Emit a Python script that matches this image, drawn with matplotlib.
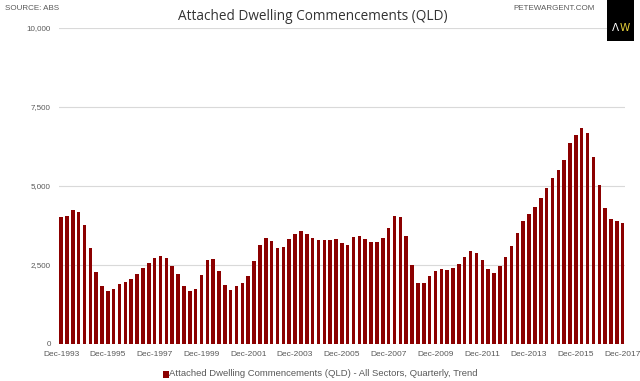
import matplotlib
matplotlib.use("Agg")
import matplotlib.pyplot as plt
from matplotlib.patches import Rectangle

values = [4013, 4055, 4237, 4192, 3758, 3033, 2289, 1830, 1682, 1756,
          1894, 1969, 2054, 2203, 2395, 2554, 2714, 2800, 2714, 2480,
          2203, 1842, 1682, 1746, 2171, 2660, 2692, 2309, 1862, 1714,
          1820, 1925, 2139, 2618, 3139, 3362, 3257, 3033, 3065, 3321,
          3491, 3576, 3470, 3353, 3299, 3278, 3278, 3321, 3193, 3118,
          3374, 3406, 3331, 3235, 3235, 3353, 3672, 4066, 4023, 3406,
          2490, 1925, 1946, 2158, 2304, 2389, 2326, 2399, 2538, 2760,
          2950, 2876, 2643, 2358, 2241, 2463, 2760, 3108, 3497, 3877,
          4108, 4340, 4636, 4921, 5247, 5500, 5817, 6355, 6599, 6820,
          6662, 5924, 5047, 4297, 3940, 3887, 3814]
tick_years = list(range(1993, 2018, 2))
tick_labels = [f"Dec-{y}" for y in tick_years]
y_ticks = [0, 2500, 5000, 7500, 10000]
series_name = "Attached Dwelling Commencements (QLD) - All Sectors, Quarterly, Trend"
title = "Attached Dwelling Commencements (QLD)"

bar_color = "#8B0000"
grey = "#595959"

fig = plt.figure(figsize=(6.4, 3.81), dpi=100)
ax = fig.add_axes([59/640, 1-344/381, (625-59)/640, (344-28)/381])

x = list(range(len(values)))
ax.bar(x, values, width=0.6, color=bar_color, zorder=3)

ax.set_ylim(0, 10000)
ax.set_xlim(-0.35, len(values) - 0.6)
ax.set_yticks(y_ticks)
ax.set_yticklabels([f"{v:,}" for v in y_ticks], fontsize=5.8, color=grey, family="Liberation Sans")
ax.set_xticks([(y - 1993) * 4 for y in tick_years])
ax.set_xticklabels(tick_labels, fontsize=6, color=grey, family="Liberation Sans")
ax.tick_params(length=0, pad=5)
ax.tick_params(axis="y", pad=6)
ax.grid(axis="y", color="#d9d9d9", linewidth=0.8, zorder=0)
for s in ax.spines.values():
    s.set_visible(False)

fig.text(313/640, 1-16/381, title, ha="center", va="center", fontsize=9.8,
         family="Open Sans", color="#333333")
fig.text(5/640, 1-9/381, "SOURCE: ABS", ha="left", va="center", fontsize=5.8,
         family="Liberation Sans", color=grey)
fig.text(595/640, 1-8/381, "PETEWARGENT.COM", ha="right", va="center", fontsize=5.8,
         family="Liberation Sans", color=grey)

# logo
fig.patches.append(Rectangle((607/640, 1-41/381), 27/640, 41/381, transform=fig.transFigure,
                             facecolor="black", edgecolor="none"))
fig.text(615/640, 1-28/381, "Λ", ha="center", va="center", fontsize=7.5, color="white",
         family="DejaVu Sans")
fig.text(624.5/640, 1-28/381, "W", ha="center", va="center", fontsize=7.5, color="#e8d13a",
         family="DejaVu Sans")

# legend
fig.patches.append(Rectangle((163/640, 1-378/381), 6/640, 7/381, transform=fig.transFigure,
                             facecolor=bar_color, edgecolor="none"))
fig.text(169/640, 1-374/381, series_name, ha="left", va="center", fontsize=6.8,
         family="Liberation Sans", color=grey)

fig.savefig("out.png", dpi=100)
